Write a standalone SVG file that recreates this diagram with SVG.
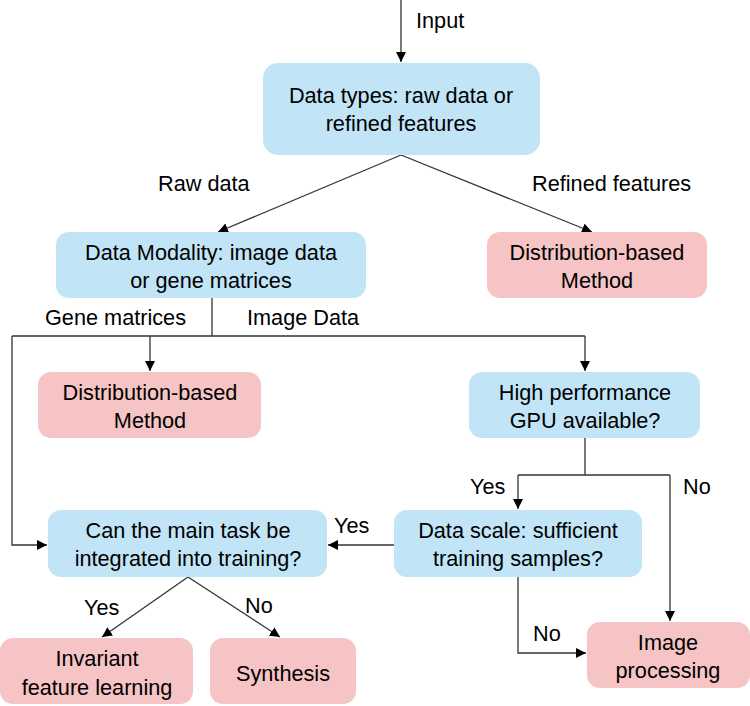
<svg xmlns="http://www.w3.org/2000/svg" width="750" height="706" viewBox="0 0 750 706">
<style>
text{font-family:"Liberation Sans",Arial,sans-serif;font-size:21.7px;fill:#000}
.c{text-anchor:middle}
.blue{fill:#c1e4f6}
.pink{fill:#f6c4c4}
.ln{fill:none;stroke:#333;stroke-width:1.3}
</style>
<defs>
<marker id="ah" viewBox="0 0 10 10" refX="10" refY="5" markerWidth="10" markerHeight="10" markerUnits="userSpaceOnUse" orient="auto">
<path d="M0,0 L10,5 L0,10 z" fill="#000"/>
</marker>
</defs>
<g id="connectors">
<line class="ln" x1="401" y1="0" x2="401" y2="62" marker-end="url(#ah)"/>
<text x="416" y="28">Input</text>
<line class="ln" x1="401" y1="155" x2="218" y2="232" marker-end="url(#ah)"/>
<line class="ln" x1="401" y1="155" x2="592" y2="232" marker-end="url(#ah)"/>
<text x="158" y="191">Raw data</text>
<text x="532" y="191">Refined features</text>
<polyline class="ln" points="212,298 212,336"/>
<line class="ln" x1="12" y1="336" x2="585" y2="336"/>
<polyline class="ln" points="12,336 12,545 47,545" marker-end="url(#ah)"/>
<line class="ln" x1="150" y1="336" x2="150" y2="371" marker-end="url(#ah)"/>
<line class="ln" x1="585" y1="336" x2="585" y2="371" marker-end="url(#ah)"/>
<text x="45" y="325">Gene matrices</text>
<text x="247" y="325">Image Data</text>
<polyline class="ln" points="585,438 585,475"/>
<line class="ln" x1="518" y1="475" x2="670" y2="475"/>
<line class="ln" x1="518" y1="475" x2="518" y2="509" marker-end="url(#ah)"/>
<line class="ln" x1="670" y1="475" x2="670" y2="621" marker-end="url(#ah)"/>
<text x="470" y="494">Yes</text>
<text x="683" y="494">No</text>
<line class="ln" x1="394" y1="545" x2="328" y2="545" marker-end="url(#ah)"/>
<text x="334" y="533">Yes</text>
<line class="ln" x1="188" y1="577" x2="102" y2="637" marker-end="url(#ah)"/>
<line class="ln" x1="188" y1="577" x2="280" y2="637" marker-end="url(#ah)"/>
<text x="84" y="615">Yes</text>
<text x="245" y="613">No</text>
<polyline class="ln" points="518,577 518,653 586,653" marker-end="url(#ah)"/>
<text x="533" y="641">No</text>
</g>
<g id="n1"><rect class="blue" x="263" y="63" width="277" height="92" rx="15"/>
<text class="c" x="401" y="103">Data types: raw data or</text><text class="c" x="401" y="131">refined features</text></g>
<g id="n2"><rect class="blue" x="56" y="232" width="310" height="66" rx="13"/>
<text class="c" x="211" y="260">Data Modality: image data</text><text class="c" x="211" y="288">or gene matrices</text></g>
<g id="n3"><rect class="pink" x="487" y="232" width="220" height="66" rx="13"/>
<text class="c" x="597" y="260">Distribution-based</text><text class="c" x="597" y="288">Method</text></g>
<g id="n4"><rect class="pink" x="38" y="372" width="223" height="66" rx="13"/>
<text class="c" x="150" y="400">Distribution-based</text><text class="c" x="150" y="428">Method</text></g>
<g id="n5"><rect class="blue" x="469" y="372" width="231" height="66" rx="13"/>
<text class="c" x="585" y="400">High performance</text><text class="c" x="585" y="428">GPU available?</text></g>
<g id="n6"><rect class="blue" x="394" y="510" width="248" height="67" rx="13"/>
<text class="c" x="518" y="538">Data scale: sufficient</text><text class="c" x="518" y="566">training samples?</text></g>
<g id="n7"><rect class="blue" x="48" y="510" width="279" height="67" rx="13"/>
<text class="c" x="188" y="538">Can the main task be</text><text class="c" x="188" y="566">integrated into training?</text></g>
<g id="n8"><rect class="pink" x="0" y="638" width="193" height="66" rx="13"/>
<text class="c" x="97" y="666">Invariant</text><text class="c" x="97" y="695">feature learning</text></g>
<g id="n9"><rect class="pink" x="210" y="638" width="146" height="66" rx="13"/>
<text class="c" x="283" y="681">Synthesis</text></g>
<g id="n10"><rect class="pink" x="587" y="622" width="163" height="66" rx="13"/>
<text class="c" x="668" y="650">Image</text><text class="c" x="668" y="678">processing</text></g>
</svg>
